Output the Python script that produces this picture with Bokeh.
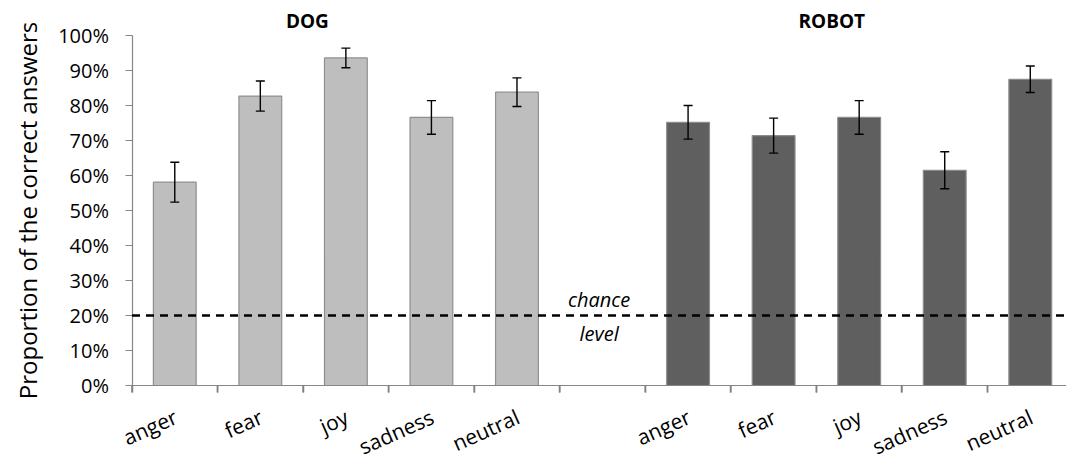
import math
from bokeh.plotting import figure
from bokeh.models import (ColumnDataSource, Range1d, FixedTicker, Whisker, TeeHead,
                          NumeralTickFormatter)
from bokeh.core.properties import value
from bokeh.embed import file_html
from bokeh.resources import INLINE

# ---- data ----
emotions = ["anger", "fear", "joy", "sadness", "neutral"]
dog_values = [0.581, 0.827, 0.936, 0.766, 0.838]
dog_errors = [0.057, 0.043, 0.028, 0.048, 0.041]
robot_values = [0.752, 0.714, 0.766, 0.615, 0.875]
robot_errors = [0.048, 0.050, 0.048, 0.053, 0.038]
group_titles = ["DOG", "ROBOT"]
chance_level = 0.20
y_ticks = [0.0, 0.1, 0.2, 0.3, 0.4, 0.5, 0.6, 0.7, 0.8, 0.9, 1.0]

# slot positions: 5 dog slots, one empty slot, 5 robot slots
n = len(emotions)
dog_x = [i + 0.5 for i in range(n)]
robot_x = [i + n + 1.5 for i in range(n)]
boundaries = list(range(2 * n + 2))

FONT = "Open Sans"

# ---- layout (pixels) ----
W, H = 1066, 463
AXIS_X_PX = 131.5               # screen column of the y axis
Y0_PX, Y1_PX = 385, 35          # screen rows of 0% and 100%
SLOT_PX = 85.55
TICK_PX = 7
px_per_unit = (Y0_PX - Y1_PX)
y_lo = -(H - Y0_PX) / px_per_unit
y_hi = 1 + Y1_PX / px_per_unit
x_lo = -AXIS_X_PX / SLOT_PX
x_hi = (W - AXIS_X_PX) / SLOT_PX

p = figure(width=W, height=H, output_backend="svg", toolbar_location=None,
           x_range=Range1d(x_lo, x_hi), y_range=Range1d(y_lo, y_hi),
           min_border_left=0, min_border_right=0, min_border_top=0,
           min_border_bottom=0)
p.outline_line_color = None
p.grid.grid_line_color = None
p.background_fill_color = "white"

def add_group(xs, vals, errs, fill, line):
    src = ColumnDataSource(dict(x=xs, top=vals,
                                upper=[v + e for v, e in zip(vals, errs)],
                                lower=[v - e for v, e in zip(vals, errs)]))
    p.vbar(x="x", top="top", bottom=0, width=0.5, source=src,
           fill_color=fill, line_color=line, line_width=1.2)
    w = Whisker(source=src, base="x", upper="upper", lower="lower",
                line_color="black", line_width=1.4, level="overlay",
                upper_head=TeeHead(size=9, line_color="black", line_width=1.4),
                lower_head=TeeHead(size=9, line_color="black", line_width=1.4))
    p.add_layout(w)

add_group(dog_x, dog_values, dog_errors, "#bebebe", "#8f8f8f")
add_group(robot_x, robot_values, robot_errors, "#5f5f5f", "#8c8c8c")

# x tick marks on the slot boundaries (pointing down)
tick_len = TICK_PX / px_per_unit
p.segment(x0=boundaries, x1=boundaries, y0=[0] * len(boundaries),
          y1=[-tick_len] * len(boundaries), line_color="#808080",
          line_width=1.5, level="overlay")

# chance level line and label
p.segment(x0=[boundaries[0]], x1=[x_hi], y0=[chance_level], y1=[chance_level],
          line_color="black", line_width=2.5, line_dash="8 6", level="overlay")
p.text(x=[5.46], y=[chance_level], text=["chance"], text_align="center",
       text_baseline="bottom", y_offset=-3, text_font=value(FONT),
       text_font_style="italic", text_font_size="20px", text_color="black")
p.text(x=[5.46], y=[chance_level], text=["level"], text_align="center",
       text_baseline="top", y_offset=4, text_font=value(FONT),
       text_font_style="italic", text_font_size="20px", text_color="black")

# group titles
p.text(x=[2.05, 8.18], y=[1.0, 1.0], text=group_titles, text_align="center",
       text_baseline="middle", y_offset=-15, text_font=value(FONT),
       text_font_style="bold", text_font_size="19px", text_color="black")

# x category labels
p.text(x=dog_x + robot_x, y=[0] * (2 * n), text=emotions + emotions,
       angle=0.42, text_align="right", text_baseline="middle",
       x_offset=1, y_offset=30, text_font=value(FONT), text_font_size="21px",
       text_color="black")

# x axis line at 0 with tick marks on the slot boundaries
xa = p.xaxis[0]
xa.fixed_location = 0
xa.bounds = (boundaries[0], x_hi)
xa.ticker = FixedTicker(ticks=boundaries, minor_ticks=[])
xa.major_label_overrides = {b: "" for b in boundaries}
xa.major_tick_out = TICK_PX
xa.major_tick_in = 0
xa.major_tick_line_color = "#808080"
xa.major_tick_line_width = 1.5
xa.minor_tick_out = 0
xa.minor_tick_in = 0
xa.axis_line_color = "#868686"
xa.axis_line_width = 1.2

# y axis
ya = p.yaxis[0]
ya.fixed_location = boundaries[0]
ya.bounds = (0, 1)
ya.ticker = FixedTicker(ticks=y_ticks, minor_ticks=[])
ya.formatter = NumeralTickFormatter(format="0%")
ya.major_tick_out = TICK_PX
ya.major_tick_in = 0
ya.major_tick_line_color = "#868686"
ya.major_tick_line_width = 1.2
ya.axis_line_color = "#868686"
ya.axis_line_width = 1.2
ya.major_label_text_font = FONT
ya.major_label_text_font_size = "20px"
ya.major_label_text_color = "black"
ya.major_label_standoff = 16
ya.axis_label = "Proportion of the correct answers"
ya.axis_label_text_font = FONT
ya.axis_label_text_font_size = "24px"
ya.axis_label_text_font_style = "normal"
ya.axis_label_text_color = "black"
ya.axis_label_standoff = 12

open("out.html", "w").write(file_html(p, INLINE))
